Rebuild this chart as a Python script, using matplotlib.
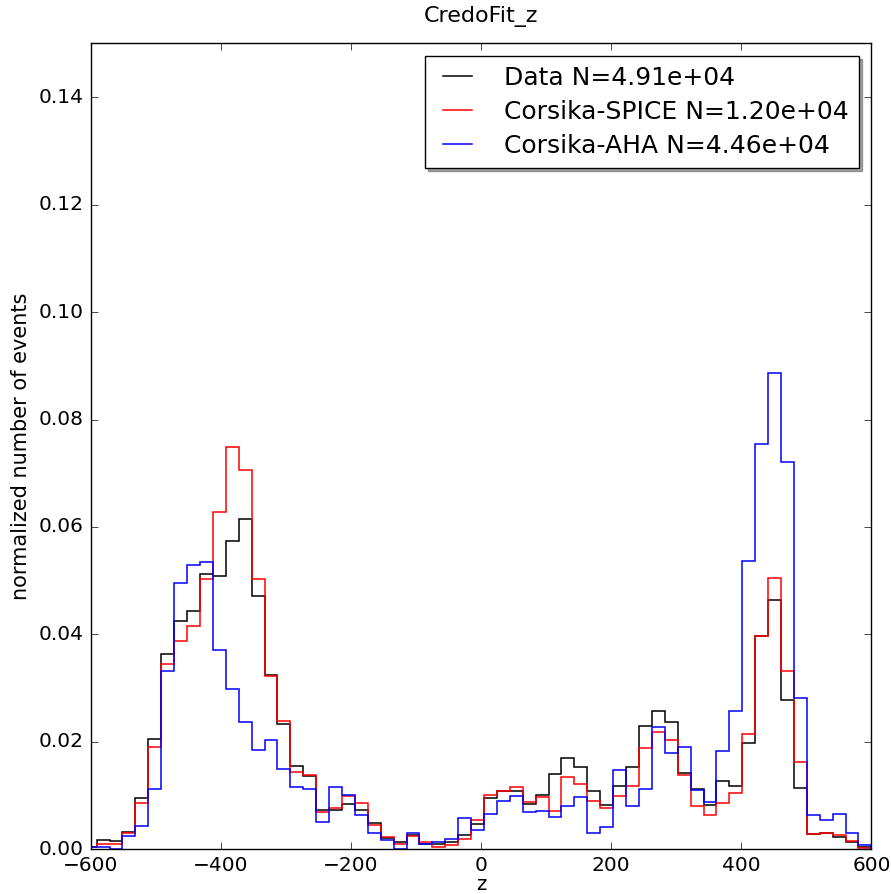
import numpy as np
import matplotlib
matplotlib.use('Agg')
import matplotlib.pyplot as plt
from matplotlib.lines import Line2D

# bin edges of the z histogram (61 bins, the first one is partly outside the view)
edges = np.linspace(-611, 600, 62)

data = [0.0004, 0.0018, 0.0016, 0.0033, 0.0095, 0.0206, 0.0363, 0.0425, 0.0444, 0.0513,
        0.0509, 0.0574, 0.0615, 0.0472, 0.0325, 0.0234, 0.0156, 0.0137, 0.0074, 0.0074,
        0.0084, 0.0073, 0.0049, 0.0022, 0.0013, 0.0027, 0.0011, 0.0011, 0.0013, 0.0027,
        0.0047, 0.0095, 0.0109, 0.0108, 0.0085, 0.0102, 0.0140, 0.0171, 0.0153, 0.0109,
        0.0082, 0.0119, 0.0154, 0.0230, 0.0258, 0.0238, 0.0143, 0.0112, 0.0083, 0.0127,
        0.0118, 0.0199, 0.0398, 0.0465, 0.0278, 0.0115, 0.0029, 0.0030, 0.0023, 0.0013,
        0.0004]

spice = [0.0005, 0.0010, 0.0011, 0.0030, 0.0087, 0.0191, 0.0346, 0.0387, 0.0416, 0.0503,
         0.0627, 0.0749, 0.0706, 0.0503, 0.0322, 0.0239, 0.0144, 0.0139, 0.0070, 0.0078,
         0.0100, 0.0087, 0.0046, 0.0023, 0.0011, 0.0025, 0.0013, 0.0005, 0.0008, 0.0019,
         0.0055, 0.0102, 0.0109, 0.0116, 0.0089, 0.0098, 0.0072, 0.0134, 0.0122, 0.0091,
         0.0077, 0.0100, 0.0118, 0.0188, 0.0218, 0.0204, 0.0139, 0.0080, 0.0064, 0.0087,
         0.0106, 0.0214, 0.0398, 0.0506, 0.0332, 0.0162, 0.0029, 0.0031, 0.0027, 0.0016,
         0.0002]

aha = [0.0004, 0.0004, 0.0001, 0.0026, 0.0043, 0.0112, 0.0333, 0.0495, 0.0530, 0.0534,
       0.0371, 0.0298, 0.0238, 0.0185, 0.0203, 0.0150, 0.0116, 0.0112, 0.0052, 0.0116,
       0.0101, 0.0064, 0.0031, 0.0018, 0.0001, 0.0031, 0.0010, 0.0013, 0.0019, 0.0058,
       0.0037, 0.0066, 0.0091, 0.0100, 0.0069, 0.0072, 0.0061, 0.0080, 0.0098, 0.0031,
       0.0042, 0.0147, 0.0081, 0.0113, 0.0227, 0.0180, 0.0191, 0.0111, 0.0089, 0.0183,
       0.0258, 0.0537, 0.0754, 0.0886, 0.0721, 0.0281, 0.0064, 0.0054, 0.0066, 0.0031,
       0.0008]

labels = ['Data N=4.91e+04', 'Corsika-SPICE N=1.20e+04', 'Corsika-AHA N=4.46e+04']
colors = ['k', 'r', 'b']

plt.style.use('classic')
plt.rcParams['figure.facecolor'] = 'white'
plt.rcParams['font.family'] = 'DejaVu Sans'

fig = plt.figure(figsize=(8.91, 8.94), dpi=100)
ax = fig.add_axes([0.102, 0.0498, 0.876, 0.9018])

centers = 0.5 * (edges[:-1] + edges[1:])
handles = []
for vals, c, lab in zip([data, spice, aha], colors, labels):
    ax.hist(centers, bins=edges, weights=vals, histtype='step', color=c, lw=1.1)
    handles.append(Line2D([], [], color=c, lw=1.1))

ax.set_xlim(-600, 600)
ax.set_ylim(0, 0.15)
ax.set_yticks(np.arange(0, 0.141, 0.02))
ax.set_yticklabels(['%.2f' % v for v in np.arange(0, 0.141, 0.02)])
ax.tick_params(labelsize=14.5, direction='in', length=5, pad=5)
ax.minorticks_off()

ax.set_xlabel('z', fontsize=14, labelpad=0)
ax.set_ylabel('normalized number of events', fontsize=15, labelpad=6)
ax.set_title('CredoFit_z', fontsize=16, pad=15)

leg = ax.legend(handles, labels, loc='upper right', fontsize=18, shadow=True, fancybox=False,
                handlelength=1.75, handletextpad=1.0, labelspacing=0.4,
                borderpad=0.4, borderaxespad=0.5)
leg.get_frame().set_linewidth(1.0)

fig.savefig('out.png', dpi=100, facecolor='white')
